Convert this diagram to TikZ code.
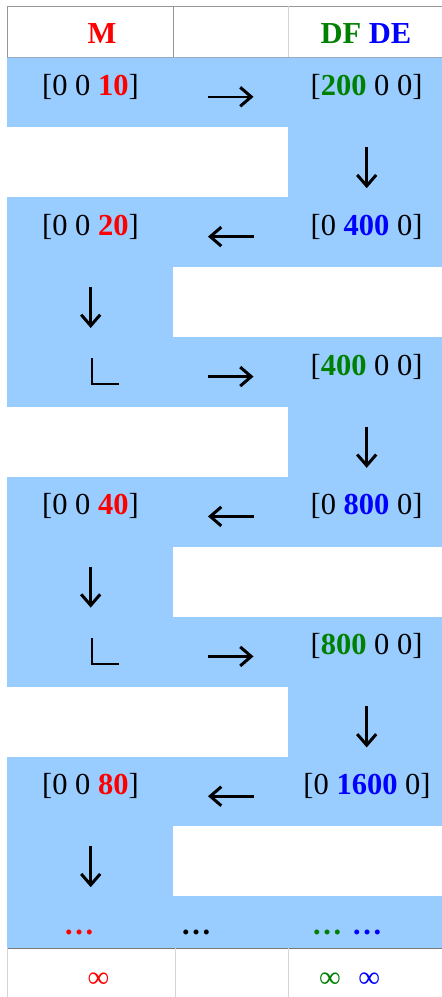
\documentclass[tikz,border=0pt]{standalone}
\usepackage{fontspec}
\setmainfont{Liberation Serif}
\usetikzlibrary{arrows.meta}
\definecolor{cellblue}{RGB}{153,204,255}
\definecolor{mred}{RGB}{255,0,0}
\definecolor{dfgreen}{RGB}{0,128,0}
\definecolor{deblue}{RGB}{0,0,255}
\definecolor{ruledark}{RGB}{150,150,150}
\definecolor{rulelight}{RGB}{212,212,212}
\newcommand{\R}[1]{\textbf{\color{mred}#1}}
\newcommand{\G}[1]{\textbf{\color{dfgreen}#1}}
\newcommand{\B}[1]{\textbf{\color{deblue}#1}}
\begin{document}
\begin{tikzpicture}[x=1pt,y=-1pt,
  cell/.style={font=\fontsize{30.5}{36}\selectfont, anchor=base, inner sep=0pt, text=black},
  flow/.style={line width=2.6pt, -{Straight Barb[length=11pt,width=19pt,line width=3pt]}},
  corner/.style={line width=1.6pt, line cap=butt},
  band/.style={fill=cellblue, draw=none}]
\useasboundingbox (0,0) rectangle (442,997);
\fill[white] (0,0) rectangle (442,997);

% blue bands: full rows, then the single-column steps
\foreach \t in {57.5,197.3,337.1,476.9,616.7,756.5}
  \path[band] (7,\t) rectangle (442,\t+69.9);
\path[band] (7,896.3) rectangle (442,948);
\foreach \t in {127.4,407.0,686.6}
  \path[band] (287.5,\t) rectangle (442,\t+69.9);
\foreach \t in {267.2,546.8,826.4}
  \path[band] (7,\t) rectangle (173,\t+69.9);

% table rules
\draw[ruledark, line width=1pt] (7,6) -- (442,6);
\draw[ruledark, line width=1pt] (7,6) -- (7,57.5);
\draw[ruledark, line width=1pt] (173.3,6) -- (173.3,57.5);
\draw[rulelight, line width=1pt] (288,6) -- (288,57.5);
\draw[ruledark!60!cellblue, line width=1pt] (7,57.5) -- (442,57.5);
\draw[ruledark!80!black, line width=1pt] (7,948) -- (442,948);
\draw[rulelight, line width=1pt] (7,948) -- (7,997);
\draw[rulelight, line width=1pt] (175.6,948) -- (175.6,997);
\draw[rulelight, line width=1pt] (288,948) -- (288,997);

% header
\node[cell] (hm) at (102,43) {\R{M}};
\node[cell] (hd) at (366,43) {\G{DF} \B{DE}};

% values
\node[cell] (m0) at (90.5,95.5)    {[0 0 \R{10}]};
\node[cell] (d0) at (366.5,95.5)   {[\G{200} 0 0]};
\node[cell] (m2) at (90.5,235.3)   {[0 0 \R{20}]};
\node[cell] (d2) at (366.5,235.3)  {[0 \B{400} 0]};
\node[cell] (d4) at (366.5,375.1)  {[\G{400} 0 0]};
\node[cell] (m6) at (90.5,514.9)   {[0 0 \R{40}]};
\node[cell] (d6) at (366.5,514.9)  {[0 \B{800} 0]};
\node[cell] (d8) at (366.5,654.7)  {[\G{800} 0 0]};
\node[cell] (m10) at (90.5,794.5)  {[0 0 \R{80}]};
\node[cell] (d10) at (367,794.5)   {[0 \B{1600} 0]};

% continuation dots
\node[cell] (mdots) at (79,934.8)  {\R{…}};
\node[cell] (adots) at (196,934.8) {\textbf{…}};
\node[cell] (fdots) at (327,934.8) {\G{…}};
\node[cell] (edots) at (367,934.8) {\B{…}};

% limits
\node[cell] (minf) at (98.5,987) {\color{mred}∞};
\node[cell] (finf) at (330,987)  {\color{dfgreen}∞};
\node[cell] (einf) at (369.3,987){\color{deblue}∞};

% horizontal steps
\foreach \n/\y in {0/96.8,4/376.6,8/656.4}{
  \coordinate (h\n a) at (208,\y);
  \coordinate (h\n b) at (253.5,\y);
  \draw[flow] (h\n a) -- (h\n b);}
\foreach \n/\y in {2/236.6,6/516.4,10/796.2}{
  \coordinate (h\n a) at (253.5,\y);
  \coordinate (h\n b) at (208,\y);
  \draw[flow] (h\n a) -- (h\n b);}

% vertical steps
\foreach \n/\x/\t in {1/366.7/127.4,3/90.7/267.2,5/366.7/407.0,7/90.7/546.8,9/366.7/686.6,11/90.7/826.4}{
  \coordinate (v\n a) at (\x,\t+19.8);
  \coordinate (v\n b) at (\x,\t+60.8);
  \draw[flow] (v\n a) -- (v\n b);}

% right-angle marks
\foreach \n/\t in {4/337.1,8/616.7}{
  \coordinate (c\n a) at (92,\t+21);
  \coordinate (c\n b) at (92,\t+47);
  \coordinate (c\n c) at (119,\t+47);
  \draw[corner] (c\n a) -- (c\n b) -- (c\n c);}
\end{tikzpicture}
\end{document}
